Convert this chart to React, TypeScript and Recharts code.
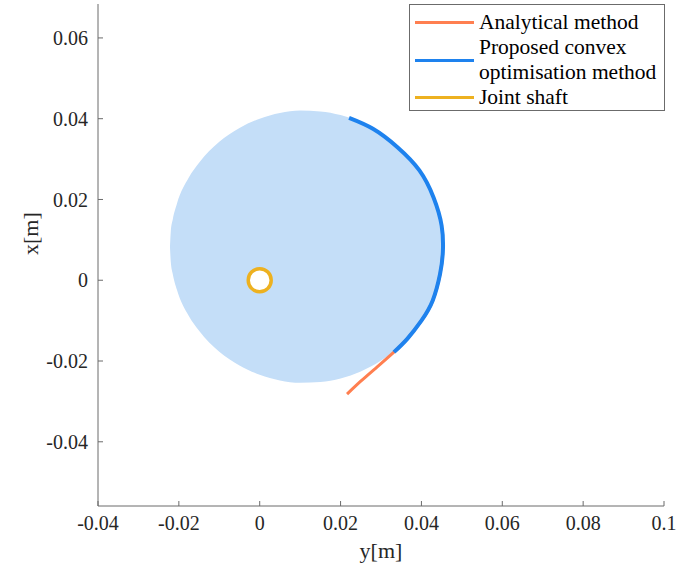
import React from "react";
import {
  ComposedChart,
  Area,
  Line,
  Scatter,
  XAxis,
  YAxis,
} from "recharts";

// workspace disc: y position and lower/upper x edge
const diskY = [-0.0222, -0.022, -0.0215, -0.0205, -0.0175, -0.015, -0.01, -0.005, 0, 0.005, 0.01, 0.015, 0.02, 0.025, 0.03, 0.035, 0.04, 0.0415, 0.0435, 0.0445, 0.045, 0.0452];
const diskLow = [0.0083, 0.0046, 0.0015, -0.0023, -0.0089, -0.0125, -0.0177, -0.0211, -0.0234, -0.0248, -0.0254, -0.0252, -0.0243, -0.0226, -0.0199, -0.0159, -0.0097, -0.007, -0.0023, 0.0015, 0.0046, 0.0083];
const diskHigh = [0.0083, 0.012, 0.0151, 0.0189, 0.0255, 0.0291, 0.0343, 0.0377, 0.04, 0.0414, 0.042, 0.0418, 0.0409, 0.0392, 0.0365, 0.0325, 0.0263, 0.0237, 0.0189, 0.0151, 0.012, 0.0083];

// analytical method trajectory
const analyticalY = [0.0216, 0.025, 0.029, 0.0332, 0.0365, 0.04, 0.0428, 0.0446, 0.0452];
const analyticalX = [-0.0282, -0.025, -0.0215, -0.0178, -0.0145, -0.01, -0.005, 0.0015, 0.006];

// proposed convex optimisation trajectory
const convexY = [0.0221, 0.028, 0.034, 0.0395, 0.043, 0.045, 0.0453, 0.0446, 0.0428, 0.04, 0.0365, 0.0332];
const convexX = [0.0402, 0.0375, 0.033, 0.0272, 0.0205, 0.0135, 0.007, 0.0015, -0.005, -0.01, -0.0145, -0.0178];

const shaftY = [0];
const shaftX = [0];

const xTicks = [-0.04, -0.02, 0, 0.02, 0.04, 0.06, 0.08, 0.1];
const yTicks = [-0.04, -0.02, 0, 0.02, 0.04, 0.06];

const legendNames = ["Analytical method", "Proposed convex optimisation method", "Joint shaft"];
const legendColors = ["#FF7F50", "#1E82EE", "#EDB120"];

const diskData = diskY.map((y, i) => ({ y, range: [diskLow[i], diskHigh[i]] }));
const analyticalData = analyticalY.map((y, i) => ({ y, x: analyticalX[i] }));
const convexData = convexY.map((y, i) => ({ y, x: convexX[i] }));
const shaftData = shaftY.map((y, i) => ({ y, x: shaftX[i] }));

const font = "'Liberation Serif', 'Times New Roman', serif";
const axisColor = "#6b6b6b";
const textColor = "#262626";

const fmt = (v: number) => String(Math.round(v * 100) / 100);

const LegendBox = () => (
  <div
    style={{
      position: "absolute",
      left: 409,
      top: 4,
      width: 256,
      height: 107,
      border: `1px solid ${axisColor}`,
      background: "#fff",
      fontFamily: font,
      fontSize: 21.5,
      lineHeight: "25px",
      padding: "5px 0 0 5px",
      boxSizing: "border-box",
    }}
  >
    {[0, 1, 2].map((i) => (
      <div key={i} style={{ display: "flex", alignItems: "center", color: "#000" }}>
        <span
          style={{
            display: "inline-block",
            width: 59,
            height: 3,
            background: legendColors[i],
            marginRight: 5,
            flex: "none",
          }}
        />
        <span style={{ width: 186, whiteSpace: "nowrap" }}>
          {i === 1 ? (
            <>
              Proposed convex
              <br />
              optimisation method
            </>
          ) : (
            legendNames[i]
          )}
        </span>
      </div>
    ))}
  </div>
);

const ShaftRing = (props: any) => (
  <circle cx={props.cx} cy={props.cy} r={11.5} fill="#fff" stroke={legendColors[2]} strokeWidth={3.5} />
);

export default function App() {
  return (
    <div style={{ position: "absolute", left: 0, top: 0, width: 695, height: 572, background: "#fff" }}>
      <ComposedChart
        width={695}
        height={572}
        data={diskData}
        margin={{ top: 4, right: 31, left: 0, bottom: 0 }}
      >
        <XAxis
          dataKey="y"
          type="number"
          domain={[-0.04, 0.1]}
          ticks={xTicks}
          tickFormatter={fmt}
          allowDataOverflow
          height={66}
          stroke={axisColor}
          tickSize={-5}
          tickMargin={15}
          tick={{ fill: textColor, fontSize: 20, fontFamily: font }}
          label={{ value: "y[m]", position: "insideBottom", offset: 14, fill: textColor, fontSize: 22, fontFamily: font }}
        />
        <XAxis
          xAxisId="top"
          orientation="top"
          dataKey="y"
          type="number"
          domain={[-0.04, 0.1]}
          ticks={xTicks}
          tickFormatter={() => ""}
          allowDataOverflow
          height={0}
          stroke={axisColor}
          tickSize={-5}
        />
        <YAxis
          dataKey="x"
          type="number"
          domain={[-0.0559, 0.0684]}
          ticks={yTicks}
          tickFormatter={fmt}
          allowDataOverflow
          width={98}
          stroke={axisColor}
          tickSize={-5}
          tickMargin={15}
          tick={{ fill: textColor, fontSize: 20, fontFamily: font }}
          label={{ value: "x[m]", angle: -90, position: "insideLeft", offset: 30, fill: textColor, fontSize: 22, fontFamily: font }}
        />
        <YAxis
          yAxisId="right"
          orientation="right"
          type="number"
          domain={[-0.0559, 0.0684]}
          ticks={yTicks}
          tickFormatter={() => ""}
          allowDataOverflow
          width={0}
          stroke={axisColor}
          tickSize={-5}
        />
        <Area
          dataKey="range"
          type="monotoneX"
          fill="#C4DEF8"
          fillOpacity={1}
          stroke="none"
          isAnimationActive={false}
          legendType="none"
        />
        <Line
          data={analyticalData}
          dataKey="x"
          type="natural"
          stroke={legendColors[0]}
          strokeWidth={3}
          dot={false}
          isAnimationActive={false}
          name={legendNames[0]}
        />
        <Line
          data={convexData}
          dataKey="x"
          type="natural"
          stroke={legendColors[1]}
          strokeWidth={4}
          dot={false}
          isAnimationActive={false}
          name={legendNames[1]}
        />
        <Scatter
          data={shaftData}
          dataKey="x"
          shape={ShaftRing}
          isAnimationActive={false}
          name={legendNames[2]}
        />
      </ComposedChart>
      <LegendBox />
    </div>
  );
}
